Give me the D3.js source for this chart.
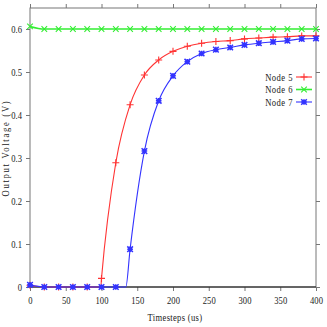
<!DOCTYPE html>
<html>
<head>
<meta charset="utf-8">
<script src="https://cdn.jsdelivr.net/npm/d3@7"></script>
<style>
  body { margin: 0; background: #fff; }
  svg { display: block; }
  text { font-family: 'Liberation Serif', 'DejaVu Serif', serif; fill: #222; }
</style>
</head>
<body>
<div id="chart"></div>
<script>
// Timesteps (us) and node voltages (V)
var node5Times = [0, 20, 40, 60, 80, 99, 100, 120, 140, 160, 180, 200, 220, 240, 260, 280, 300, 320, 340, 360, 380, 400];
var node5Values = [0.004, 0, 0, 0, 0, 0, 0.02, 0.289, 0.424, 0.493, 0.528, 0.548, 0.560, 0.567, 0.571, 0.573, 0.577, 0.579, 0.581, 0.582, 0.584, 0.584];

var node6Times = [0, 20, 40, 60, 80, 100, 120, 140, 160, 180, 200, 220, 240, 260, 280, 300, 320, 340, 360, 380, 400];
var node6Values = [0.606, 0.6, 0.6, 0.6, 0.6, 0.6, 0.6, 0.6, 0.6, 0.6, 0.6, 0.6, 0.6, 0.6, 0.6, 0.6, 0.6, 0.6, 0.6, 0.6, 0.6];

var node7Times = [0, 20, 40, 60, 80, 100, 120, 134, 140, 160, 180, 200, 220, 240, 260, 280, 300, 320, 340, 360, 380, 400];
var node7Values = [0.005, 0, 0, 0, 0, 0, 0, 0, 0.088, 0.316, 0.433, 0.491, 0.524, 0.543, 0.552, 0.557, 0.563, 0.567, 0.570, 0.573, 0.577, 0.578];

var xTicks = [0, 50, 100, 150, 200, 250, 300, 350, 400];
var yTicks = [0, 0.1, 0.2, 0.3, 0.4, 0.5, 0.6];

var seriesNames = ['Node 5', 'Node 6', 'Node 7'];
var seriesColors = ['#ff3333', '#33ee33', '#3333ff'];
var seriesMarkers = ['plus', 'cross', 'star'];

(function () {
  var width = 327, height = 327,
      left = 30, right = 316, top = 8, bottom = 287;

  var x = d3.scaleLinear().domain([0, 400]).range([left, right]);
  var y = d3.scaleLinear().domain([0, 0.65]).range([bottom, top - 0.5]);

  var svg = d3.select('#chart').append('svg')
    .attr('width', width)
    .attr('height', height);

  var series = [node5Times, node6Times, node7Times].map(function (times, i) {
    var vals = [node5Values, node6Values, node7Values][i];
    return {
      name: seriesNames[i],
      color: seriesColors[i],
      marker: seriesMarkers[i],
      points: times.map(function (t, j) { return { t: t, v: vals[j] }; })
    };
  });

  // squeeze text horizontally around its anchor point
  var narrow = function (ax) {
    return 'translate(' + ax + ',0) scale(0.78,1) translate(' + (-ax) + ',0)';
  };

  // axes: outward ticks on all four sides
  var xAxis = svg.append('g')
    .attr('transform', 'translate(0,' + bottom + ')')
    .call(d3.axisBottom(x).tickValues(xTicks).tickSize(4).tickPadding(5).tickFormat(d3.format('d')));
  var xTop = svg.append('g')
    .attr('transform', 'translate(0,' + top + ')')
    .call(d3.axisTop(x).tickValues(xTicks).tickSize(4).tickFormat(''));
  var yAxis = svg.append('g')
    .attr('transform', 'translate(' + left + ',0)')
    .call(d3.axisLeft(y).tickValues(yTicks).tickSize(4).tickPadding(4).tickFormat(d3.format('~g')));
  var yRight = svg.append('g')
    .attr('transform', 'translate(' + right + ',0)')
    .call(d3.axisRight(y).tickValues(yTicks).tickSize(4).tickFormat(''));

  [xAxis, xTop, yAxis, yRight].forEach(function (g) {
    g.select('.domain').remove();
    g.selectAll('.tick line').attr('stroke', '#777');
    g.selectAll('.tick text')
      .attr('font-size', 11)
      .attr('fill', '#222')
      .attr('font-family', null);
  });

  xAxis.selectAll('.tick text').attr('transform', narrow(0));
  yAxis.selectAll('.tick text').each(function () {
    var el = d3.select(this);
    el.attr('transform', narrow(+el.attr('x')));
  });

  svg.append('rect')
    .attr('x', left)
    .attr('y', top)
    .attr('width', right - left)
    .attr('height', bottom - top)
    .attr('fill', 'none')
    .attr('stroke', '#777')
    .attr('stroke-width', 1);

  svg.append('line')
    .attr('x1', left).attr('x2', right)
    .attr('y1', bottom).attr('y2', bottom)
    .attr('stroke', '#111');

  // series
  var line = d3.line()
    .x(function (d) { return x(d.t); })
    .y(function (d) { return y(d.v); })
    .curve(d3.curveMonotoneX);

  var markerPath = function (kind, s) {
    var p = d3.path();
    if (kind === 'plus' || kind === 'star') {
      p.moveTo(-s, 0); p.lineTo(s, 0);
      p.moveTo(0, -s); p.lineTo(0, s);
    }
    if (kind === 'cross' || kind === 'star') {
      p.moveTo(-s, -s); p.lineTo(s, s);
      p.moveTo(-s, s); p.lineTo(s, -s);
    }
    return p.toString();
  };

  var groups = svg.selectAll('.series')
    .data(series)
    .enter().append('g')
    .attr('class', 'series');

  groups.append('path')
    .attr('d', function (d) { return line(d.points); })
    .attr('fill', 'none')
    .attr('stroke', function (d) { return d.color; })
    .attr('stroke-width', function (d) { return d.marker === 'cross' ? 1.6 : 1.1; });

  groups.each(function (d) {
    d3.select(this).selectAll('.mark')
      .data(d.points.filter(function (p) { return p.t % 20 === 0; }))
      .enter().append('path')
      .attr('class', 'mark')
      .attr('transform', function (p) { return 'translate(' + x(p.t) + ',' + y(p.v) + ')'; })
      .attr('d', markerPath(d.marker, d.marker === 'plus' ? 3.5 : 2.8))
      .attr('fill', 'none')
      .attr('stroke', d.color)
      .attr('stroke-width', d.marker === 'star' ? 1.5 : 1.1);
  });

  // legend
  var legend = svg.append('g').selectAll('g')
    .data(series)
    .enter().append('g')
    .attr('transform', function (d, i) { return 'translate(0,' + (77 + i * 12.5) + ')'; });

  legend.append('text')
    .attr('x', 293)
    .attr('dy', '0.35em')
    .attr('text-anchor', 'end')
    .attr('font-size', 11)
    .attr('letter-spacing', 0.6)
    .attr('transform', narrow(293))
    .text(function (d) { return d.name; });

  legend.append('line')
    .attr('x1', 296).attr('x2', 312)
    .attr('stroke', function (d) { return d.color; })
    .attr('stroke-width', function (d) { return d.marker === 'cross' ? 1.6 : 1.1; });

  legend.append('path')
    .attr('transform', 'translate(304,0)')
    .attr('d', function (d) { return markerPath(d.marker, d.marker === 'plus' ? 3.5 : 2.8); })
    .attr('fill', 'none')
    .attr('stroke', function (d) { return d.color; })
    .attr('stroke-width', function (d) { return d.marker === 'star' ? 1.5 : 1.1; });

  // axis titles
  var midX = (left + right) / 2 + 2;
  svg.append('text')
    .attr('x', midX)
    .attr('y', 321)
    .attr('text-anchor', 'middle')
    .attr('font-size', 11)
    .attr('letter-spacing', 0.4)
    .attr('transform', narrow(midX))
    .text('Timesteps (us)');

  svg.append('text')
    .attr('transform', 'translate(9,148) rotate(-90) scale(0.78,1)')
    .attr('text-anchor', 'middle')
    .attr('font-size', 11)
    .attr('letter-spacing', 2.2)
    .text('Output Voltage (V)');
})();
</script>
</body>
</html>
